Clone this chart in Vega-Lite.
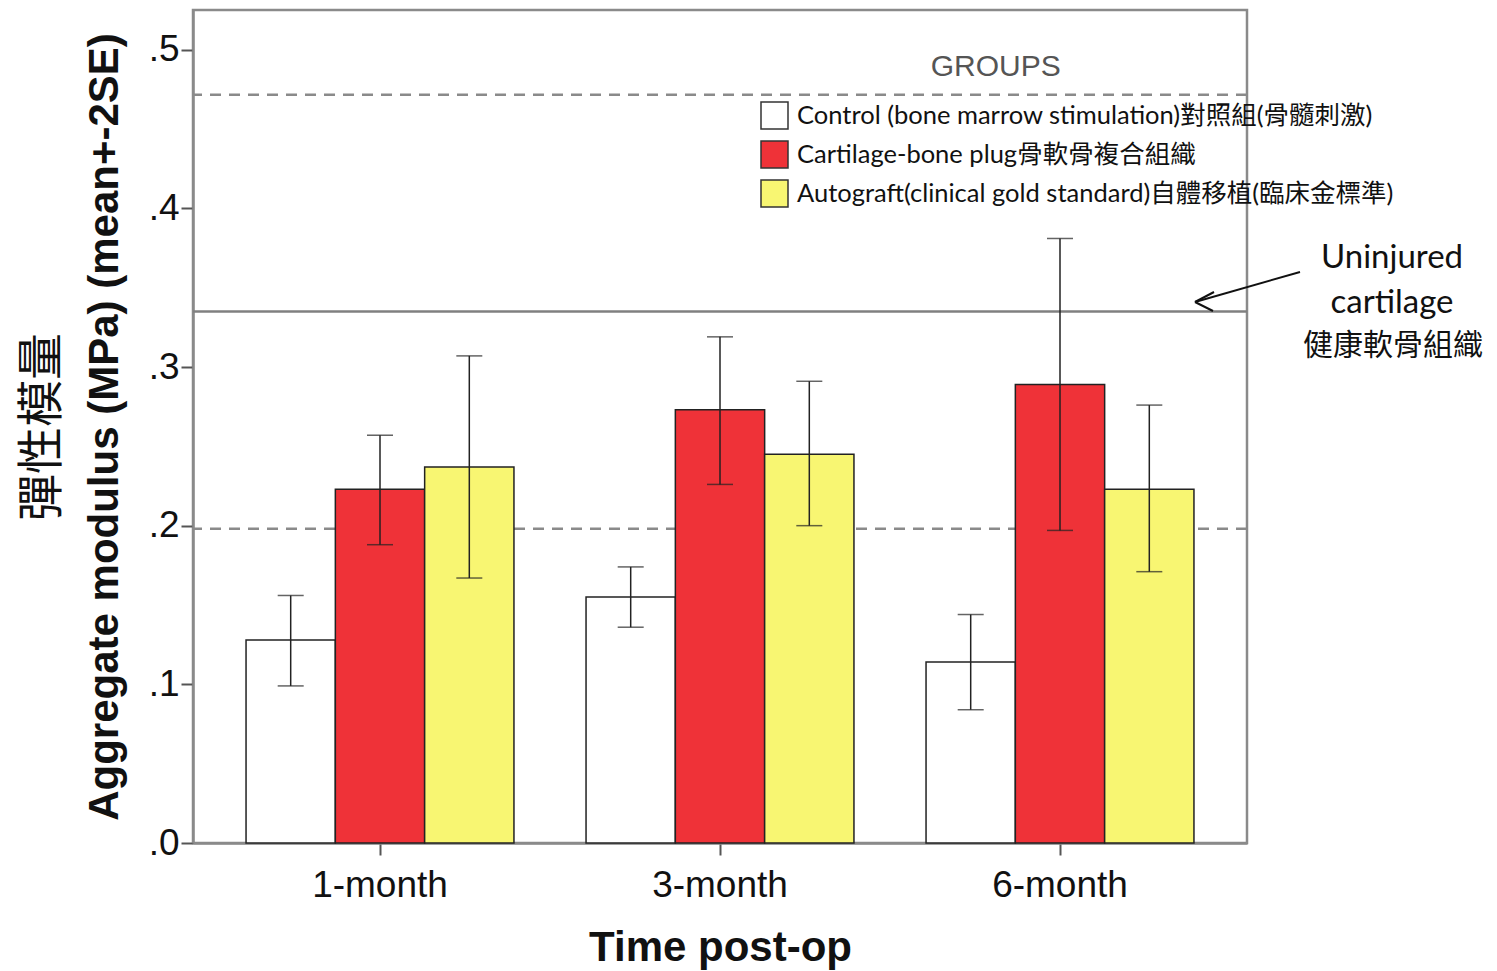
{
  "$schema": "https://vega.github.io/schema/vega-lite/v6.json",
  "width": 1054,
  "height": 833,
  "autosize": {"type": "none"},
  "padding": {"left": 193, "top": 10, "right": 250, "bottom": 128},
  "background": "white",
  "config": {
    "view": {"stroke": "#8a8a8a", "strokeWidth": 2.5},
    "font": "Liberation Sans",
    "axis": {"grid": false, "domainColor": "#8a8a8a", "domainWidth": 2.5, "tickColor": "#555555", "tickWidth": 2, "labelColor": "#111111", "titleColor": "#111111"}
  },
  "resolve": {"scale": {"y": "shared"}, "axis": {"y": "independent"}},
  "layer": [
    {
      "data": {"values": [
        {"v": 0.4716}, {"v": 0.198}
      ]},
      "mark": {"type": "rule", "color": "#8a8a8a", "strokeWidth": 2.5, "strokeDash": [11, 8]},
      "encoding": {
        "y": {"field": "v", "type": "quantitative", "scale": {"domain": [0, 0.525], "nice": false},
          "axis": {"orient": "left", "title": "彈性模量", "labels": false, "ticks": false, "domain": false, "titleFont": "Noto Sans CJK TC", "titleFontSize": 47, "titleFontWeight": "normal", "titlePadding": 127}}
      }
    },
    {
      "data": {"values": [{"v": 0.335}]},
      "mark": {"type": "rule", "color": "#808080", "strokeWidth": 2.5},
      "encoding": {
        "y": {"field": "v", "type": "quantitative", "axis": null}
      }
    },
    {
      "data": {"values": [
        {"time": "1-month", "group": "Control (bone marrow stimulation)對照組(骨髓刺激)", "mean": 0.128, "lo": 0.099, "hi": 0.156},
        {"time": "1-month", "group": "Cartilage-bone plug骨軟骨複合組織", "mean": 0.223, "lo": 0.188, "hi": 0.257},
        {"time": "1-month", "group": "Autograft(clinical gold standard)自體移植(臨床金標準)", "mean": 0.237, "lo": 0.167, "hi": 0.307},
        {"time": "3-month", "group": "Control (bone marrow stimulation)對照組(骨髓刺激)", "mean": 0.155, "lo": 0.136, "hi": 0.174},
        {"time": "3-month", "group": "Cartilage-bone plug骨軟骨複合組織", "mean": 0.273, "lo": 0.226, "hi": 0.319},
        {"time": "3-month", "group": "Autograft(clinical gold standard)自體移植(臨床金標準)", "mean": 0.245, "lo": 0.200, "hi": 0.291},
        {"time": "6-month", "group": "Control (bone marrow stimulation)對照組(骨髓刺激)", "mean": 0.114, "lo": 0.084, "hi": 0.144},
        {"time": "6-month", "group": "Cartilage-bone plug骨軟骨複合組織", "mean": 0.289, "lo": 0.197, "hi": 0.381},
        {"time": "6-month", "group": "Autograft(clinical gold standard)自體移植(臨床金標準)", "mean": 0.223, "lo": 0.171, "hi": 0.276}
      ]},
      "encoding": {
        "x": {"field": "time", "type": "nominal", "sort": ["1-month", "3-month", "6-month"],
          "scale": {"paddingInner": 0.212, "paddingOuter": 0.156},
          "axis": {"title": "Time post-op", "labelAngle": 0, "labelFontSize": 37, "titleFontSize": 42, "titleFontWeight": "bold", "tickSize": 12, "labelPadding": 12, "titlePadding": 24}},
        "xOffset": {"field": "group", "type": "nominal",
          "scale": {"domain": ["Control (bone marrow stimulation)對照組(骨髓刺激)", "Cartilage-bone plug骨軟骨複合組織", "Autograft(clinical gold standard)自體移植(臨床金標準)"], "paddingInner": 0, "paddingOuter": 0}}
      },
      "resolve": {"axis": {"y": "independent"}},
      "layer": [
        {
          "mark": {"type": "bar", "stroke": "#222222", "strokeWidth": 1.5},
          "encoding": {
            "y": {"field": "mean", "type": "quantitative",
              "axis": {"orient": "left", "values": [0, 0.1, 0.2, 0.3, 0.4, 0.5], "labelExpr": "replace(format(datum.value,'.1f'),'0.','.')", "title": "Aggregate modulus (MPa) (mean+-2SE)", "titleFontSize": 42, "titleFontWeight": "bold", "labelFontSize": 37, "tickSize": 12, "labelPadding": 2, "titlePadding": 22}},
            "fill": {"field": "group", "type": "nominal",
              "scale": {"domain": ["Control (bone marrow stimulation)對照組(骨髓刺激)", "Cartilage-bone plug骨軟骨複合組織", "Autograft(clinical gold standard)自體移植(臨床金標準)"], "range": ["#ffffff", "#ef3238", "#f8f672"]},
              "legend": {"title": null, "orient": "none", "legendX": 567, "legendY": 91, "padding": 0, "labelFont": "Lato, Noto Sans CJK TC", "labelFontSize": 25.5, "labelColor": "#111111", "labelLimit": 900, "symbolType": "square", "symbolSize": 729, "symbolStrokeColor": "#333333", "symbolStrokeWidth": 1.5, "rowPadding": 6, "labelOffset": 8}}
          }
        },
        {
          "mark": {"type": "rule", "color": "#222222", "strokeWidth": 1.5},
          "encoding": {
            "y": {"field": "lo", "type": "quantitative", "axis": null},
            "y2": {"field": "hi"}
          }
        },
        {
          "mark": {"type": "tick", "color": "#222222", "thickness": 1.5, "size": 26},
          "encoding": {
            "y": {"field": "lo", "type": "quantitative", "axis": null}
          }
        },
        {
          "mark": {"type": "tick", "color": "#222222", "thickness": 1.5, "size": 26},
          "encoding": {
            "y": {"field": "hi", "type": "quantitative", "axis": null}
          }
        }
      ]
    },
    {
      "data": {"values": [{"t": "GROUPS", "time": "6-month", "group": "Control (bone marrow stimulation)對照組(骨髓刺激)", "y": 0.489}]},
      "mark": {"type": "text", "font": "Liberation Sans", "fontSize": 30, "color": "#555555", "align": "center", "baseline": "middle", "dx": 25},
      "encoding": {
        "x": {"field": "time", "type": "nominal"},
        "xOffset": {"field": "group", "type": "nominal"},
        "y": {"field": "y", "type": "quantitative", "axis": null},
        "text": {"field": "t"}
      }
    },
    {
      "data": {"values": [
        {"t": "Uninjured", "y": 0.3687},
        {"t": "cartilage", "y": 0.3403}
      ]},
      "mark": {"type": "text", "font": "Lato", "fontSize": 33, "color": "#111111", "align": "center", "baseline": "middle", "x": 1199},
      "encoding": {
        "y": {"field": "y", "type": "quantitative", "axis": null},
        "text": {"field": "t"}
      }
    },
    {
      "data": {"values": [
        {"t": "健康軟骨組織", "y": 0.3135}
      ]},
      "mark": {"type": "text", "font": "Noto Sans CJK TC", "fontSize": 30, "color": "#111111", "align": "center", "baseline": "middle", "x": 1200},
      "encoding": {
        "y": {"field": "y", "type": "quantitative", "axis": null},
        "text": {"field": "t"}
      }
    },
    {
      "data": {"values": [{}]},
      "mark": {"type": "rule", "color": "#111111", "strokeWidth": 2},
      "encoding": {"x": {"value": 1107}, "x2": {"value": 1002}, "y": {"value": 262}, "y2": {"value": 292}}
    },
    {
      "data": {"values": [{}]},
      "mark": {"type": "rule", "color": "#111111", "strokeWidth": 2},
      "encoding": {"x": {"value": 1002}, "x2": {"value": 1021}, "y": {"value": 292}, "y2": {"value": 282}}
    },
    {
      "data": {"values": [{}]},
      "mark": {"type": "rule", "color": "#111111", "strokeWidth": 2},
      "encoding": {"x": {"value": 1002}, "x2": {"value": 1020}, "y": {"value": 292}, "y2": {"value": 301}}
    }
  ]
}
